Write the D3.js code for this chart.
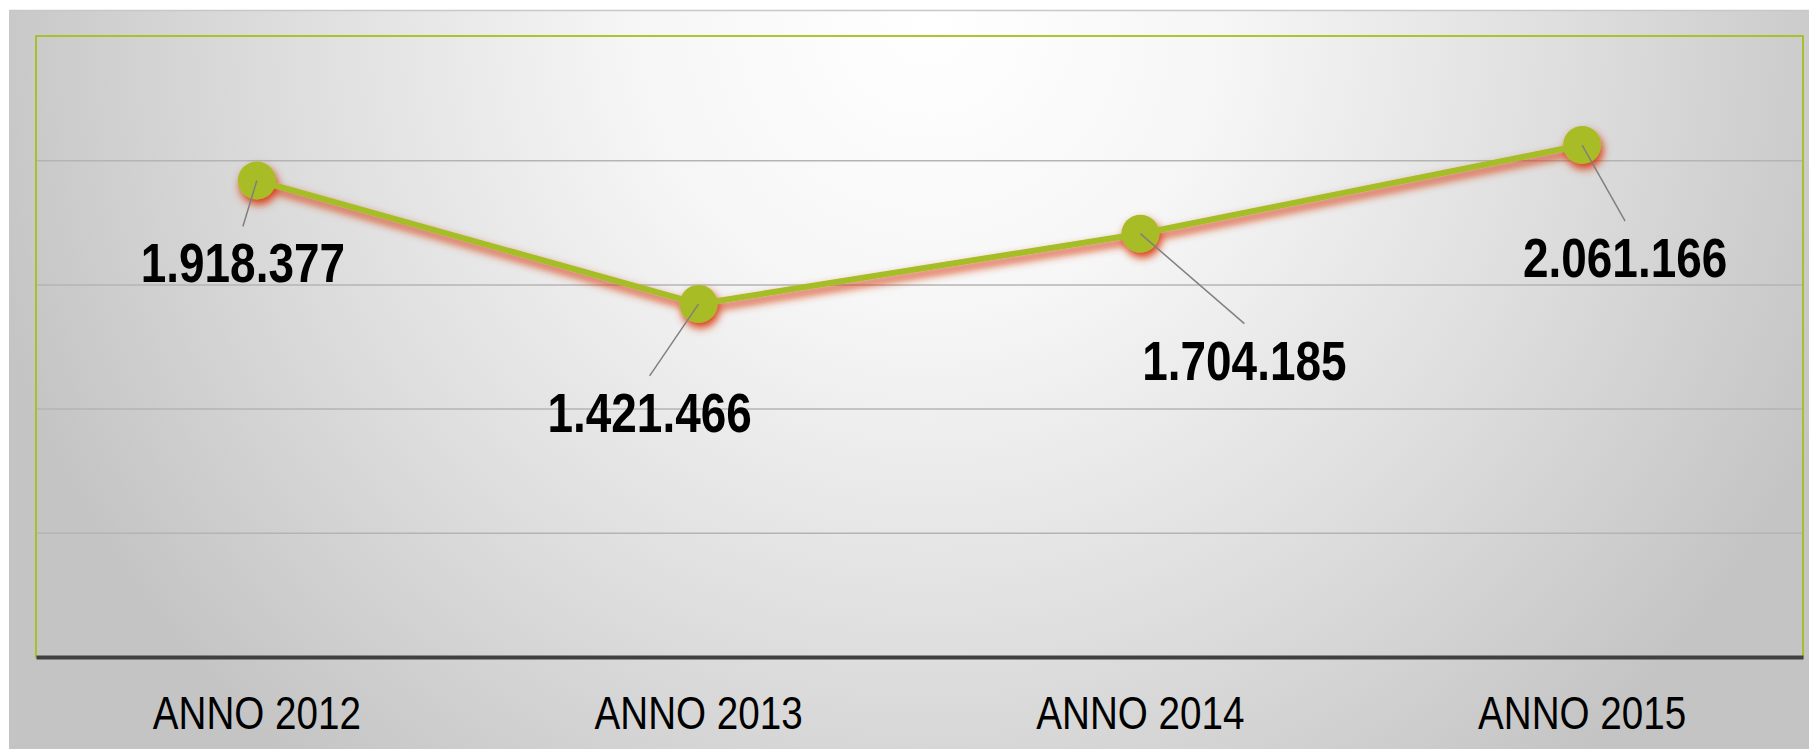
<!DOCTYPE html>
<html lang="it">
<head>
  <meta charset="UTF-8" />
  <title>Andamento per anno</title>
  <script src="https://d3js.org/d3.v7.min.js"></script>
  <style>
    html, body {
      margin: 0;
      padding: 0;
      background: #ffffff;
      overflow: hidden;
    }
    svg {
      display: block;
    }
    .cat-label {
      font-family: "Liberation Sans Narrow", "Arial Narrow", "Liberation Sans", Arial, sans-serif;
      font-size: 46px;
      fill: #000;
    }
    .value-label {
      font-family: "Liberation Sans Narrow", "Arial Narrow", "Liberation Sans", Arial, sans-serif;
      font-size: 56px;
      font-weight: bold;
      fill: #000;
    }
  </style>
</head>
<body>
  <svg id="chart"></svg>

  <script>
    // dati
    const categories = ["ANNO 2012", "ANNO 2013", "ANNO 2014", "ANNO 2015"];
    const values     = [1918377, 1421466, 1704185, 2061166];
    const yTicks     = [0, 500000, 1000000, 1500000, 2000000, 2500000];

    // spostamento etichette rispetto al punto (dx, dy della linea di base)
    const labelOffsets = [[-14, 102], [-49, 128], [104, 146], [43, 132]];

    const W = 1809, H = 749;
    const plot = { left: 36, right: 1803, top: 36, bottom: 657 };
    const narrow = 0.82; // nessun font "narrow" installato: si comprime in orizzontale

    const svg = d3.select("#chart")
      .attr("width", W)
      .attr("height", H);

    const defs = svg.append("defs");

    const bg = defs.append("radialGradient")
      .attr("id", "bg")
      .attr("gradientUnits", "userSpaceOnUse")
      .attr("cx", 930).attr("cy", 20).attr("r", 980);
    bg.append("stop").attr("offset", "0").attr("stop-color", "#ffffff");
    bg.append("stop").attr("offset", "0.3").attr("stop-color", "#f6f6f6");
    bg.append("stop").attr("offset", "0.65").attr("stop-color", "#dedede");
    bg.append("stop").attr("offset", "1").attr("stop-color", "#c4c4c4");

    const glow = defs.append("filter")
      .attr("id", "glow")
      .attr("x", "-20%").attr("y", "-20%")
      .attr("width", "140%").attr("height", "160%");
    glow.append("feGaussianBlur").attr("in", "SourceAlpha").attr("stdDeviation", 4).attr("result", "b");
    glow.append("feOffset").attr("in", "b").attr("dx", 2).attr("dy", 5).attr("result", "o");
    glow.append("feFlood").attr("flood-color", "#d8380e").attr("flood-opacity", 1);
    glow.append("feComposite").attr("in2", "o").attr("operator", "in").attr("result", "s");
    const merge = glow.append("feMerge");
    merge.append("feMergeNode").attr("in", "s");
    merge.append("feMergeNode").attr("in", "SourceGraphic");

    // sfondo
    svg.append("rect")
      .attr("x", 9).attr("y", 10)
      .attr("width", W - 9).attr("height", H - 10)
      .attr("fill", "url(#bg)");
    svg.append("line")
      .attr("x1", 9).attr("x2", W)
      .attr("y1", 10.5).attr("y2", 10.5)
      .attr("stroke", "#c8c8c8")
      .attr("stroke-width", 1.5);

    const x = d3.scaleBand()
      .domain(categories)
      .range([plot.left, plot.right]);

    const y = d3.scaleLinear()
      .domain([0, 2500000])
      .range([plot.bottom, plot.top]);

    // griglia
    svg.append("g")
      .attr("transform", `translate(${plot.left},0)`)
      .call(d3.axisLeft(y)
        .tickValues(yTicks.slice(1, -1))
        .tickSize(-(plot.right - plot.left))
        .tickFormat(""))
      .call(g => g.select(".domain").remove())
      .call(g => g.selectAll(".tick line")
        .attr("stroke", "#b4b4b4")
        .attr("stroke-width", 1.5));

    // bordo area
    svg.append("rect")
      .attr("x", plot.left).attr("y", plot.top)
      .attr("width", plot.right - plot.left)
      .attr("height", plot.bottom - plot.top)
      .attr("fill", "none")
      .attr("stroke", "#a4bf1c")
      .attr("stroke-width", 1.8);

    // asse x
    svg.append("g")
      .attr("transform", `translate(0,${plot.bottom})`)
      .call(d3.axisBottom(x).tickSize(0).tickPadding(72))
      .call(g => g.select(".domain")
        .attr("stroke", "#404040")
        .attr("stroke-width", 4))
      .call(g => g.selectAll(".tick text")
        .attr("class", "cat-label")
        .attr("font-family", null)
        .attr("font-size", null)
        .attr("fill", null)
        .attr("dy", 0)
        .attr("transform", `scale(0.84,1)`));

    const pts = categories.map((c, i) => ({
      cat: c,
      v: values[i],
      px: x(c) + x.bandwidth() / 2,
      py: y(values[i]),
      off: labelOffsets[i]
    }));

    const series = svg.append("g").attr("filter", "url(#glow)");

    series.append("path")
      .datum(pts)
      .attr("fill", "none")
      .attr("stroke", "#a5bd25")
      .attr("stroke-width", 6)
      .attr("d", d3.line().x(d => d.px).y(d => d.py));

    series.selectAll("circle")
      .data(pts)
      .join("circle")
      .attr("cx", d => d.px)
      .attr("cy", d => d.py)
      .attr("r", 19)
      .attr("fill", "#a8bc26");

    // linee guida ed etichette
    const fmt = d3.formatLocale({ decimal: ",", thousands: ".", grouping: [3], currency: ["€", ""] }).format(",d");

    svg.selectAll(".leader")
      .data(pts)
      .join("line")
      .attr("class", "leader")
      .attr("x1", d => d.px)
      .attr("y1", d => d.py)
      .attr("x2", d => d.px + d.off[0])
      .attr("y2", d => d.py + d.off[1] - 56)
      .attr("stroke", "#808080")
      .attr("stroke-width", 1.5);

    svg.selectAll(".value-label")
      .data(pts)
      .join("text")
      .attr("class", "value-label")
      .attr("transform", d => `translate(${d.px + d.off[0]},${d.py + d.off[1]}) scale(${narrow},1)`)
      .attr("text-anchor", "middle")
      .text(d => fmt(d.v));
  </script>
</body>
</html>
